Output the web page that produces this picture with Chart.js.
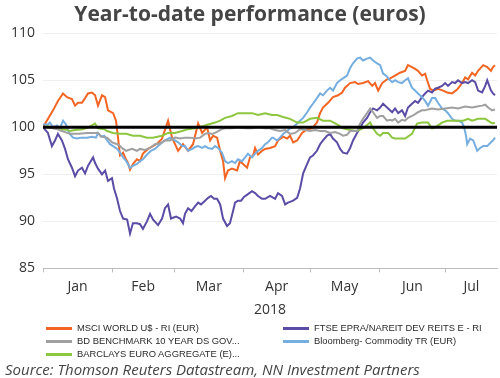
<!DOCTYPE html>
<html>
<head>
<meta charset="utf-8">
<script src="https://cdn.jsdelivr.net/npm/chart.js@4.4.1/dist/chart.umd.min.js"></script>
<style>
  html, body { margin: 0; padding: 0; background: #ffffff; }
  #wrap { position: relative; width: 500px; height: 378px; overflow: hidden; }
  #c { position: absolute; left: 0; top: 0; }
  .lg { position: absolute; font-family: "Liberation Sans Narrow", "Liberation Sans", Roboto, sans-serif; font-size: 9.4px; color: #2a2a2a; white-space: nowrap; line-height: 12px; }
  .sw { position: absolute; height: 3px; width: 26px; }
  #src { position: absolute; left: 5px; top: 359px; font-family: "Open Sans", "Liberation Sans", sans-serif; font-style: italic; font-size: 15px; color: #444; white-space: nowrap; line-height: 20px; }
</style>
</head>
<body>
<div id="wrap">
  <canvas id="c" width="500" height="378"></canvas>
  <div id="legend"></div>
  <div id="src">Source: Thomson Reuters Datastream, NN Investment Partners</div>
</div>
<script>
// ---- Data (x = days since 1 Jan 2018) ----
const monthNames = ["Jan", "Feb", "Mar", "Apr", "May", "Jun", "Jul"];
const monthStarts = [0, 31, 59, 90, 120, 151, 181];
const monthMids = [15.5, 45, 74.5, 105, 135.5, 166, 192.5];
const xTitle = "2018";
const yTicks = [85, 90, 95, 100, 105, 110];

const seriesNames = [
  "MSCI WORLD U$ - RI (EUR)",
  "FTSE EPRA/NAREIT DEV REITS E - RI",
  "BD BENCHMARK 10 YEAR DS GOV...",
  "Bloomberg- Commodity TR (EUR)",
  "BARCLAYS EURO AGGREGATE (E)..."
];

const msciDays = [0,4.5,6.7,9,10.8,13,14.4,15.7,17.5,18.9,20.2,22,23.4,24.7,26.5,27.9,29.2,31.5,32.8,33.7,34.6,36,36.9,38.2,39.1,40.4,42.2,43.6,44.9,47.2,49.4,51.5,53.5,56.2,58,60.7,62.9,65.2,67.4,69.7,71.5,73.7,75.1,76.4,78.2,79.6,80.9,81.8,83.1,84.9,87.2,88.5,89.9,91.7,93,94.4,95.3,96.6,98.4,99.8,102,104.3,105.6,107.9,109.7,111,112.4,114.2,116.4,118.7,120.9,123.1,124.5,125.8,128.1,130.3,132.6,134.4,135.7,138,140.2,141.6,143.8,146.1,147.9,149.2,150.6,152.4,154.6,156,158.2,160.4,162.7,164,165.8,167.2,168.5,170.3,171.7,172.6,173.9,175.3,177.5,179.8,181.6,183.8,186.1,188.3,189.7,191,192.8,194.2,195.5,197.8,199.6,201.3,202.2,203.1];
const msciVals = [100,101.8,102.8,103.6,103.2,103,102.3,102.6,102.6,103.1,103.6,103.7,103.4,102.3,103.4,103.2,101.8,101.5,100.7,98.9,97,97.3,96.8,96.2,95.5,96.1,96.6,96.4,97.2,97.7,98,98.3,98.8,100.7,98.9,97.5,98.2,97.5,98.2,100.4,99.4,100,98.6,99.1,98.9,97.5,96.4,94.6,95.4,95.6,95.4,96.4,96.1,95.7,96.8,97,97.8,97.1,97.5,97.7,97.8,98,98.6,99,98.8,99.1,98.4,98.6,99.4,99.8,99.9,100.5,101.5,102.1,102.6,103.2,103.4,103.7,104.2,104.7,104.8,104.6,104.7,104.9,104.4,104.7,103.9,104.7,105.1,105.2,105.5,105.8,106,106.6,106.4,106.2,106,105.5,105.7,105,104.1,103.9,104.1,103.9,103.7,103.6,104,104.7,105.3,105.1,105.8,105.5,106,106.6,106.4,106,106.4,106.6];

const ftseDays = [0,2.2,4,5.4,6.7,8.5,9.9,11.2,13,14.4,15.7,17.5,18.9,20.2,22.5,23.4,24.7,26.5,27.9,29.2,31,31.9,33.3,34.6,36,37.8,39.1,40.4,42.2,43.6,44.9,46.7,48.1,49.4,51.7,53.5,54.8,56.2,57.5,59.8,61.6,62.9,63.8,65.2,66.7,68.3,69.7,71,72.8,74.2,75.5,76.9,78.2,79.6,80.9,82.7,84,85.4,86.3,87.6,89,90.3,92.1,93.9,95.3,96.6,98.4,99.8,102,104.3,105.6,107.4,108.8,110.1,112.4,114.2,115.5,116.9,118.7,120,121.3,123.1,124.5,125.8,127.6,129,130.3,132.1,133.5,134.8,136.6,138,139.3,141.1,142.5,143.8,145.6,147,148.3,150.1,151.5,152.8,154.6,156.9,158.2,159.6,161.3,162.7,164,165.8,167.2,168.5,170.3,171.7,173,174.8,176.2,177.5,179.3,180.7,182,183.8,185.2,186.5,188.3,189.7,191,192.8,194.2,195.5,197.3,198.7,199.6,201.3,202.2,203.1];
const ftseVals = [100,99.4,98,98.6,99.3,98.6,97.7,96.6,95.7,94.8,95.4,95.7,95.1,95.9,96.8,96.2,95.6,95,95.4,94.3,94.6,93.5,92.4,91.1,90.3,90.2,88.7,89.8,89.8,89.7,89.2,90,90.8,90.2,89.6,90.3,91.4,91.8,90.3,90.5,90.3,89.8,90.8,91.4,91.1,91.6,92,91.8,92.2,92.5,92.7,92.4,92.4,91.8,90.3,89.5,89.8,91.1,92,92.2,92.2,92.6,92.9,93.2,93,92.7,92.4,92.4,92.7,92.4,93,92.7,91.8,92,92.2,92.5,93.5,95.1,96.1,96.8,97,97.5,98.2,98.6,99.1,99.3,98.8,98.4,97.7,97.3,97.2,97.8,98.6,99.4,99.9,100.5,101,101.6,102,101.8,102.1,102.5,102.1,101.6,102,101.5,101.8,101.2,102.1,102.5,102.8,102.6,103.2,103.6,103.9,103.7,104.1,104.2,104.4,104.7,104.4,104.8,104.7,105,104.7,104.8,104.7,105,104.8,103.9,103.7,104.4,105,103.9,103.6,103.4];

const bdDays = [0,2.2,4.5,6.3,8.5,10.8,12.1,13.5,16.2,19.8,22.5,24.7,26.1,28.8,31,33.3,34.6,36,37.4,40,42.2,43.6,45.8,48.1,50.3,52.6,54.8,57.1,59.3,61.6,63.8,66.1,68.3,70.6,72.8,74.2,76,77.3,78.7,80.4,81.8,84.9,87.6,90.8,93.9,96.6,99.8,102,104.3,106.5,108.8,111,113.3,115.5,117.8,120,122.2,124.5,126.7,129,131.2,133.5,134.8,136.6,138,141.1,142.5,143.8,145.6,147,148.3,150.1,151.5,152.8,154.6,156,156.9,158.2,159.6,161.3,162.7,164,165.8,167.2,168.5,170.3,171.7,173,174.8,177.5,180.7,183.8,186.5,189.7,192.8,195.1,197.3,198.7,200,201.8,203.1];
const bdVals = [100,100,99.9,99.8,99.6,99.4,99.3,99.3,99.3,99.4,99.4,99.4,99,98.9,98.4,98.2,98,97.7,97.5,97.7,97.5,97.7,97.6,97.8,98.2,98.3,98.6,98.6,98.9,98.8,98.9,98.9,98.8,98.9,99.3,99.4,99.3,99.4,99.6,99.8,99.9,99.9,100,99.9,99.9,100,99.9,99.9,99.7,99.6,99.7,99.3,99.4,99.8,99.7,99.6,99.7,99.6,99.6,99.4,99.5,99.3,99.1,99.2,99.6,99.6,100.4,100.9,101.5,102,101.6,101,101.2,101.2,100.7,100.8,100.7,100.9,100.5,100.8,100.7,101,101.2,101.4,101.6,101.8,101.8,101.9,102,101.9,102,102.1,102,102.2,102.1,102.2,102.3,102.4,102.1,101.8,101.9];

const bcomDays = [0,2.2,3.1,4.5,6.3,7.6,9,10.3,11.7,13.5,15.3,17.1,19.8,22,23.8,24.7,26.1,27.5,28.8,30.1,31.5,33.3,34.6,36,37.4,39.1,40.4,42.2,43.6,44.9,46.3,48.5,50.3,52.6,54.8,57.1,59.3,60.7,62.5,63.8,65.2,67,68.3,69.7,71.5,72.8,74.2,76,77.3,78.7,80.4,81.8,83.1,84.9,86.3,87.6,89.4,90.8,92.1,93.9,95.3,96.6,98.4,99.8,101.1,102.9,103.4,105.2,106.5,107.9,109.7,111,112.4,114.2,115.5,116.9,118.7,120,121.3,123.1,124.5,125.8,127.6,129,130.3,132.1,133.5,134.8,136.6,138,139.3,141.1,142.5,143.8,145.6,147,148.3,150.1,151.5,152.8,154.6,155.1,156.9,158.2,159.6,161.3,162.7,164,165.8,167.2,168.5,170.3,171.7,173,174.8,176.2,177.5,179.3,180.7,182,183.8,185.2,186.5,188.3,189.2,190.1,190.6,191.9,193.3,195.1,196.4,197.8,199.6,201.3,202.2,203.1];
const bcomVals = [100.3,100.3,100.5,100,100.2,99.9,100.7,100.3,99.4,98.9,98.8,98.9,98.9,99,98.9,99.4,99,99.1,98.6,98.2,98,97.7,97.3,96.8,96.4,95.7,95.9,96.1,96.4,96.6,97,97.5,97.7,98.2,98.6,98.9,98.6,98.4,98,98,97.5,97.7,97.9,98,97.8,98,97.8,97.7,98,97.8,97.3,96.4,96.2,96.4,96.2,96.6,96.4,96.8,97.2,96.8,97.2,97.5,97.8,98.2,98.4,98.9,98.9,98.6,98.9,99.3,99.6,99.9,100,100.4,100.7,101,101.6,102.1,102.5,103.1,103.6,103.4,103.9,104.2,103.9,104.7,105,105.2,105.5,106.3,106.8,107.3,107.4,107.1,107.3,107.4,107.1,106.8,106.6,105.7,105.4,105.2,104.8,105,104.8,104.7,105,105.2,104.2,103.9,103.6,103.2,102.8,102.3,103.1,103.1,102.6,102,101.8,101.5,100.9,100.7,100.7,100.5,100,99.1,98.2,98.8,98.6,97.5,97.8,98,98,98.4,98.6,98.9];

const barcDays = [0,2.2,4.5,6.3,8.5,11.2,12.1,14.4,18,20.2,22,23.4,24.7,27.5,28.8,31.5,34.6,37.4,40.4,43.6,46.7,49.4,53.5,56.2,59.3,62.5,65.2,68.3,71.5,74.2,77.3,79.6,81.8,84.9,87.6,90.8,93.9,96.6,99.8,102.9,105.2,107.9,111,114.2,116.9,120,123.1,125.8,129,132.1,134.8,138,141.1,143.8,147,148.3,150.1,151.5,152.8,155.1,156.9,158.2,160.4,162.7,165.8,168.1,170.3,173,174.8,176.2,179.3,181.6,183.8,186.5,188.8,191,192.8,195.5,198.7,201.3,202.2,203.1];
const barcVals = [100,100.1,99.9,100,99.8,99.7,99.6,99.7,99.8,100,100.2,100.4,99.9,99.8,99.6,99.4,99.3,99.3,99.1,99.1,98.9,98.9,99.1,99.4,99.4,99.6,99.8,99.9,100.1,100.3,100.5,100.7,101,101.2,101.5,101.5,101.5,101.3,101.5,101.3,101.3,101.1,100.9,100.5,100.5,100.9,101,100.7,100.7,100.3,99.9,99.7,99.6,99.9,100.5,99.9,99.3,99.1,99.4,99.4,98.9,98.8,98.8,98.8,99.3,100.4,100.5,100.5,99.9,100,100.5,100.7,100.7,100.7,100.7,100.9,100.7,100.9,100.9,100.5,100.4,100.5];

const baseline = 100;
const colors = ["#F26522", "#5B4DA6", "#A0A0A0", "#75AEDF", "#8DC63F"];

// ---- Build datasets ----
function pts(days, vals) { return days.map((d, i) => ({ x: d, y: vals[i] })); }
const seriesData = [
  pts(msciDays, msciVals),
  pts(ftseDays, ftseVals),
  pts(bdDays, bdVals),
  pts(bcomDays, bcomVals),
  pts(barcDays, barcVals)
];
// draw order: grey, green, blue, purple, orange (orange on top)
const order = [2, 4, 3, 1, 0];
const datasets = order.map(i => ({
  label: seriesNames[i],
  data: seriesData[i],
  borderColor: colors[i],
  backgroundColor: colors[i],
  borderWidth: 2,
  pointRadius: 0,
  tension: 0,
  fill: false
}));

const xTickVals = [];
monthStarts.forEach((s, i) => { xTickVals.push(s); xTickVals.push(monthMids[i]); });

const baselinePlugin = {
  id: 'baseline',
  afterDatasetsDraw(chart) {
    const { ctx, chartArea, scales } = chart;
    const y = scales.y.getPixelForValue(baseline);
    ctx.save();
    ctx.strokeStyle = '#000';
    ctx.lineWidth = 3;
    ctx.beginPath();
    ctx.moveTo(chartArea.left, y);
    ctx.lineTo(chartArea.right, y);
    ctx.stroke();
    ctx.restore();
  }
};

new Chart(document.getElementById('c'), {
  type: 'line',
  data: { datasets },
  options: {
    responsive: false,
    animation: false,
    layout: { padding: { left: 3, right: 3, top: 0, bottom: 60 } },
    plugins: {
      legend: { display: false },
      tooltip: { enabled: false },
      title: {
        display: true,
        text: 'Year-to-date performance (euros)',
        color: '#454545',
        font: { family: "'Open Sans', sans-serif", size: 21, weight: 'bold' },
        padding: { top: 2, bottom: 6 }
      }
    },
    scales: {
      x: {
        type: 'linear',
        min: monthStarts[0],
        max: 204,
        afterBuildTicks(axis) { axis.ticks = xTickVals.map(v => ({ value: v })); },
        ticks: {
          autoSkip: false,
          maxRotation: 0,
          padding: 6,
          color: '#333',
          font: { family: "'Open Sans', sans-serif", size: 14 },
          callback(value) {
            const i = monthMids.indexOf(value);
            return i >= 0 ? monthNames[i] : '';
          }
        },
        grid: {
          drawOnChartArea: false,
          tickLength: 4,
          color(ctx) { return ctx.tick && monthStarts.includes(ctx.tick.value) ? '#bdbdbd' : 'rgba(0,0,0,0)'; }
        },
        border: { display: true, color: '#bdbdbd', dash: [2, 1], width: 1 },
        title: {
          display: true,
          text: xTitle,
          color: '#333',
          font: { family: "'Open Sans', sans-serif", size: 14 },
          padding: { top: 0, bottom: 0 }
        }
      },
      y: {
        min: yTicks[0],
        max: yTicks[yTicks.length - 1],
        afterBuildTicks(axis) { axis.ticks = yTicks.map(v => ({ value: v })); },
        ticks: {
          padding: 8,
          color: '#333',
          font: { family: "'Open Sans', sans-serif", size: 14 }
        },
        grid: {
          drawTicks: false,
          color(ctx) { const v = ctx.tick && ctx.tick.value; return (v === 85 || v === baseline) ? 'rgba(0,0,0,0)' : '#efefef'; }
        },
        border: { display: false }
      }
    }
  },
  plugins: [baselinePlugin]
});

// ---- HTML legend (two columns) ----
const legendPos = [
  { i: 0, x: 46, y: 328 },
  { i: 1, x: 283, y: 328 },
  { i: 2, x: 46, y: 341 },
  { i: 3, x: 283, y: 341 },
  { i: 4, x: 46, y: 354 }
];
const lg = document.getElementById('legend');
legendPos.forEach(p => {
  const sw = document.createElement('div');
  sw.className = 'sw';
  sw.style.left = p.x + 'px';
  sw.style.top = (p.y - 1) + 'px';
  sw.style.background = colors[p.i];
  lg.appendChild(sw);
  const t = document.createElement('div');
  t.className = 'lg';
  t.style.left = (p.x + 31) + 'px';
  t.style.top = (p.y - 6) + 'px';
  t.textContent = seriesNames[p.i];
  lg.appendChild(t);
});
</script>
</body>
</html>
